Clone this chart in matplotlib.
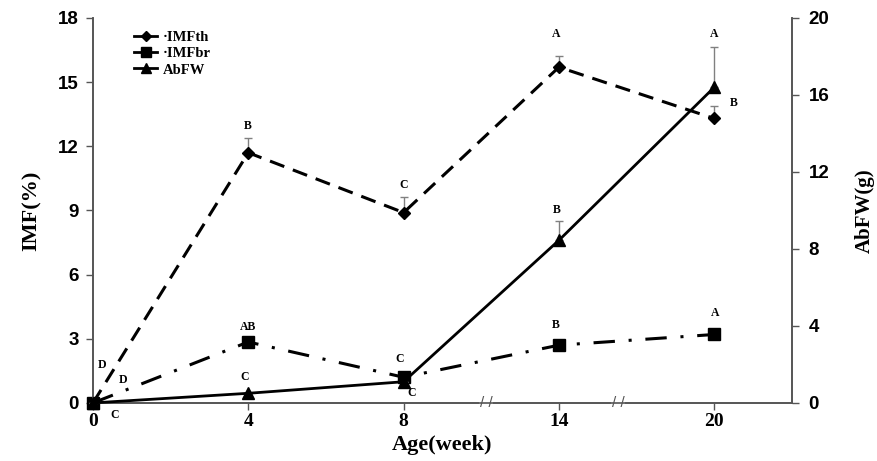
import numpy as np
import matplotlib
matplotlib.use("Agg")
import matplotlib.pyplot as plt
from matplotlib.lines import Line2D

# ---- data ----
weeks = ["0", "4", "8", "14", "20"]

imf_th = [0.0, 11.7, 8.9, 15.7, 13.3]
imf_th_err = [0.0, 0.7, 0.75, 0.5, 0.6]
imf_th_letters = ["D", "B", "C", "A", "B"]

imf_br = [0.0, 2.85, 1.2, 2.7, 3.2]
imf_br_err = [0.0, 0.0, 0.0, 0.0, 0.0]
imf_br_letters = ["D", "AB", "C", "B", "A"]

abfw = [0.0, 0.5, 1.1, 8.45, 16.4]
abfw_err = [0.0, 0.0, 0.0, 1.0, 2.1]
abfw_letters = ["C", "C", "C", "B", "A"]

SERIF = ["Liberation Serif", "DejaVu Serif"]
SANS = ["Liberation Sans", "DejaVu Sans"]
SPINE = "#555555"

fig = plt.figure(figsize=(8.77, 4.61), dpi=100)
ax = fig.add_axes([0.106, 0.126, 0.797, 0.835])
ax2 = ax.twinx()

x = np.arange(len(weeks))

# error bars (upper only, thin grey)
ax.errorbar(x, imf_th, yerr=[np.zeros(len(x)), imf_th_err], fmt="none",
            ecolor="#808080", elinewidth=1, capsize=3, zorder=2, clip_on=False)
ax2.errorbar(x, abfw, yerr=[np.zeros(len(x)), abfw_err], fmt="none",
             ecolor="#808080", elinewidth=1, capsize=3, zorder=2, clip_on=False)

ax.plot(x, imf_th, color="black", lw=2.2, dashes=(5, 3), marker="D", ms=6,
        zorder=3, clip_on=False)
ax.plot(x, imf_br, color="black", lw=2.2, dashes=(7, 4.5, 1, 4.5), marker="s", ms=8,
        zorder=3, clip_on=False)
ax2.plot(x, abfw, color="black", lw=2.0, marker="^", ms=9, zorder=3, clip_on=False)

# significance letters (offsets in pixels)
th_off = [(9, 38), (0, 27), (0, 28), (-3, 33), (20, 15)]
br_off = [(30, 23), (0, 15), (-4, 18), (-3, 20), (1, 21)]
ab_off = [(22, -12), (-4, 16), (8, -11), (-2, 30), (0, 53)]
for a, vals, letters, offs in [(ax, imf_th, imf_th_letters, th_off),
                               (ax, imf_br, imf_br_letters, br_off),
                               (ax2, abfw, abfw_letters, ab_off)]:
    for xi, v, lt, off in zip(x, vals, letters, offs):
        a.annotate(lt, xy=(xi, v), xytext=off, textcoords="offset pixels",
                   ha="center", va="center", fontsize=8.5, fontweight="bold",
                   family=SERIF, annotation_clip=False)

# axes styling
ax.set_xlim(0, 4.5)
ax.set_ylim(0, 18)
ax2.set_ylim(0, 20)
ax.set_yticks(range(0, 19, 3))
ax2.set_yticks(range(0, 21, 4))
ax.set_xticks(x)
ax.set_xticklabels(weeks, family=SERIF, fontweight="bold", fontsize=14)
for lab in ax.get_yticklabels() + ax2.get_yticklabels():
    lab.set_family(SANS)
    lab.set_fontweight("bold")
    lab.set_fontsize(13.5)

for a in (ax, ax2):
    a.spines["top"].set_visible(False)
    for s in ("left", "right", "bottom"):
        a.spines[s].set_color(SPINE)
        a.spines[s].set_linewidth(1.2)
    a.tick_params(colors=SPINE, labelcolor="black", length=5, width=1)
ax.tick_params(axis="x", pad=2)
ax.tick_params(axis="y", pad=5)
ax2.tick_params(axis="y", pad=7)

ax.set_xlabel("Age(week)", family=SERIF, fontweight="bold", fontsize=16, labelpad=4)
ax.set_ylabel("IMF(%)", family=SERIF, fontweight="bold", fontsize=16, labelpad=12)
ax2.set_ylabel("AbFW(g)", family=SERIF, fontweight="bold", fontsize=15, labelpad=18)

# axis break marks
for bx in (2.53, 3.38):
    ax.text(bx, 0, "/ /", transform=ax.get_xaxis_transform(), ha="center", va="center",
            fontsize=11, color=SPINE, family=SANS, clip_on=False, zorder=5,
            bbox=dict(facecolor="white", edgecolor="none", pad=0.5))

handles = [Line2D([], [], color="black", lw=2, marker="D", ms=5),
           Line2D([], [], color="black", lw=2, marker="s", ms=7),
           Line2D([], [], color="black", lw=2, marker="^", ms=7)]
ax.legend(handles, ["·IMFth", "·IMFbr", "AbFW"], loc="upper left",
          bbox_to_anchor=(0.04, 1.0), frameon=False, handlelength=1.6,
          handletextpad=0.4, labelspacing=0.2,
          prop=dict(family=SERIF, weight="bold", size=10.5))

fig.savefig("out.png", dpi=100)
